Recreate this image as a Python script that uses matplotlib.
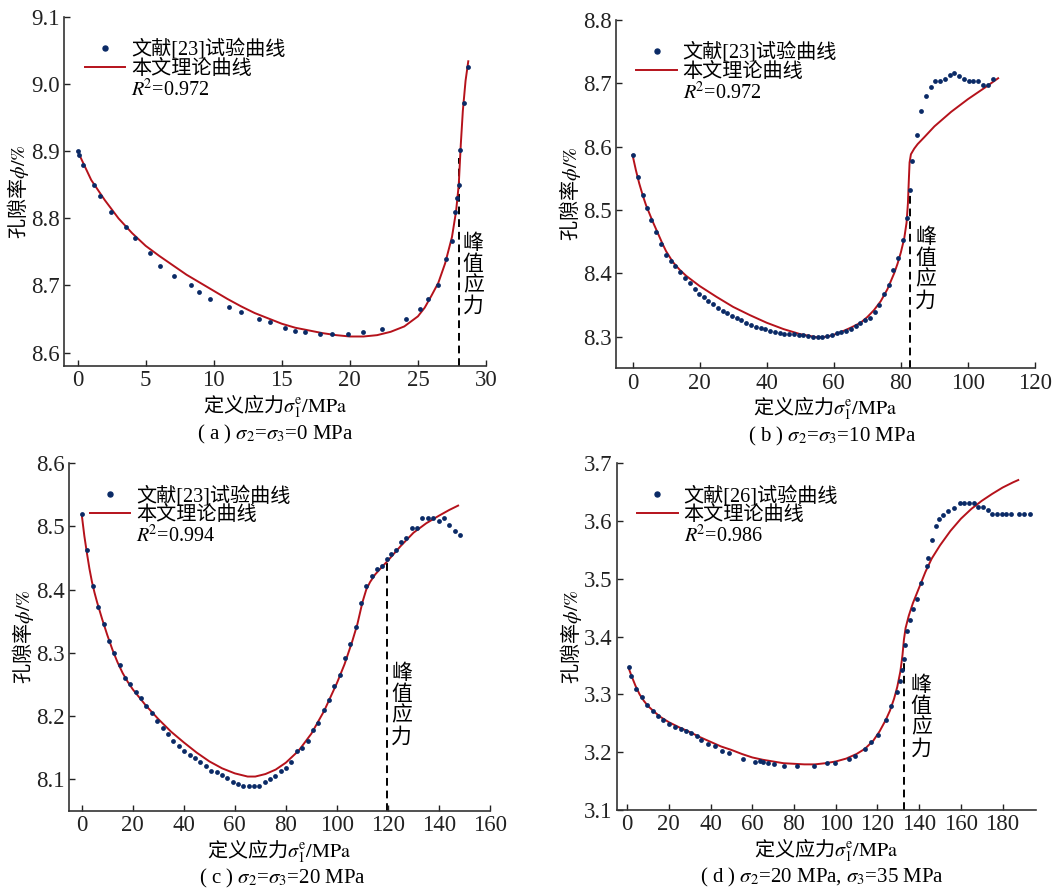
import matplotlib
matplotlib.use('Agg')
import matplotlib.pyplot as plt
from matplotlib.lines import Line2D
from matplotlib.font_manager import FontProperties

plt.rcParams['mathtext.fontset'] = 'stix'
plt.rcParams['font.family'] = ['Liberation Serif', 'Noto Sans CJK SC']

# ---- (a) sigma2 = sigma3 = 0 MPa ----
a_x = [0, 0.07, 0.42, 1.23, 1.67, 2.48, 3.56, 4.25, 5.28, 6.06, 7.05, 8.30, 8.94, 9.72,
       11.15, 11.98, 13.31, 14.14, 15.20, 15.98, 16.72, 17.80, 18.68, 19.84, 20.94, 22.37,
       24.13, 25.12, 25.75, 26.47, 27.08, 27.47, 27.74, 27.89, 28.01, 28.11, 28.36, 28.70]
a_y = [8.900, 8.895, 8.880, 8.850, 8.833, 8.809, 8.787, 8.770, 8.748, 8.729, 8.714, 8.700,
       8.690, 8.680, 8.668, 8.660, 8.650, 8.645, 8.637, 8.632, 8.630, 8.628, 8.627, 8.628,
       8.630, 8.635, 8.650, 8.665, 8.680, 8.700, 8.739, 8.766, 8.809, 8.830, 8.850, 8.902,
       8.972, 9.026]
a_cx = [0, 1, 2, 3, 4, 5, 6, 7, 8, 9, 10, 11, 12, 13, 14, 15, 16, 17, 18, 19, 20, 21, 22,
        23, 24, 25, 25.5, 26, 26.5, 27, 27.5, 27.8, 28.0, 28.15, 28.3, 28.5, 28.7]
a_cy = [8.900, 8.857, 8.827, 8.800, 8.778, 8.759, 8.744, 8.730, 8.716, 8.704, 8.692, 8.680,
        8.669, 8.659, 8.651, 8.643, 8.637, 8.633, 8.629, 8.626, 8.624, 8.624, 8.626, 8.631,
        8.639, 8.654, 8.667, 8.685, 8.704, 8.733, 8.772, 8.810, 8.850, 8.910, 8.960, 9.005,
        9.034]

# ---- (b) sigma2 = sigma3 = 10 MPa ----
b_x = [0, 1.49, 2.98, 4.17, 5.56, 7.05, 8.54, 10.03, 11.42, 12.62, 14.20, 15.59, 17.09,
       18.48, 19.87, 21.26, 22.65, 24.04, 25.43, 26.92, 28.31, 29.70, 31.09, 32.48, 33.87,
       35.36, 36.75, 38.24, 39.63, 41.03, 42.42, 43.91, 45.30, 46.69, 48.18, 49.57, 50.96,
       52.35, 53.74, 55.23, 56.62, 58.01, 59.40, 60.89, 62.28, 63.67, 65.06, 66.55, 67.95,
       69.33, 70.83, 72.22, 73.61, 75.0, 76.39, 77.78, 79.27, 80.56, 81.95, 82.75, 83.24,
       84.73, 85.93, 87.41, 88.90, 90.30, 91.78, 93.17, 94.56, 95.96, 97.45, 98.84, 100.23,
       101.62, 103.11, 104.50, 105.89, 107.38]
b_y = [8.587, 8.552, 8.523, 8.503, 8.484, 8.466, 8.447, 8.429, 8.420, 8.411, 8.402, 8.393,
       8.385, 8.376, 8.368, 8.363, 8.356, 8.351, 8.346, 8.341, 8.337, 8.332, 8.330, 8.326,
       8.322, 8.318, 8.315, 8.314, 8.312, 8.309, 8.308, 8.306, 8.305, 8.304, 8.304, 8.303,
       8.302, 8.301, 8.300, 8.300, 8.300, 8.301, 8.303, 8.306, 8.307, 8.309, 8.312, 8.317,
       8.321, 8.326, 8.329, 8.339, 8.350, 8.368, 8.382, 8.406, 8.424, 8.453, 8.488, 8.532,
       8.577, 8.619, 8.656, 8.680, 8.694, 8.703, 8.703, 8.707, 8.713, 8.717, 8.712, 8.707,
       8.703, 8.703, 8.703, 8.698, 8.698, 8.707]
b_cx = [0, 1, 2, 3, 4, 5, 6, 7, 8, 9, 10, 12, 14, 16, 18, 20, 25, 30, 35, 40, 45, 50, 55,
        58, 60, 62, 65, 68, 70, 72, 74, 76, 78, 79, 80, 81, 81.7, 82.1, 82.4, 82.6, 83, 84,
        85, 87, 90, 95, 100, 105, 109]
b_cy = [8.587, 8.563, 8.542, 8.524, 8.508, 8.495, 8.482, 8.470, 8.458, 8.446, 8.435, 8.418,
        8.406, 8.396, 8.388, 8.380, 8.363, 8.347, 8.334, 8.322, 8.312, 8.304, 8.299, 8.300,
        8.303, 8.307, 8.314, 8.322, 8.331, 8.342, 8.356, 8.375, 8.400, 8.415, 8.433, 8.455,
        8.480, 8.510, 8.550, 8.575, 8.588, 8.597, 8.604, 8.615, 8.632, 8.655, 8.675, 8.693,
        8.708]

# ---- (c) sigma2 = sigma3 = 20 MPa ----
c_x = [0.26, 2.22, 4.31, 6.53, 8.62, 10.71, 12.80, 14.89, 16.98, 19.07, 21.16, 23.25, 25.34,
       27.56, 29.65, 31.74, 33.83, 35.92, 38.14, 40.23, 42.32, 44.41, 46.50, 48.59, 50.68,
       52.90, 54.99, 57.08, 59.17, 61.26, 63.35, 65.44, 67.53, 69.62, 71.71, 73.80, 75.89,
       77.98, 80.07, 82.16, 84.38, 86.47, 88.56, 90.52, 92.74, 94.83, 96.92, 99.01, 101.10,
       103.19, 105.28, 107.37, 109.46, 111.55, 113.64, 115.73, 117.82, 119.65, 121.08,
       123.04, 125.13, 127.22, 129.31, 131.40, 133.49, 135.58, 137.80, 139.89, 141.98,
       144.07, 146.16, 148.38]
c_y = [8.520, 8.462, 8.405, 8.373, 8.346, 8.319, 8.300, 8.280, 8.260, 8.250, 8.238, 8.228,
       8.216, 8.204, 8.192, 8.181, 8.172, 8.161, 8.152, 8.145, 8.138, 8.133, 8.127, 8.121,
       8.113, 8.111, 8.106, 8.101, 8.096, 8.092, 8.089, 8.089, 8.089, 8.089, 8.096, 8.100,
       8.105, 8.112, 8.117, 8.127, 8.144, 8.149, 8.160, 8.177, 8.189, 8.210, 8.225, 8.247,
       8.265, 8.292, 8.314, 8.340, 8.378, 8.406, 8.421, 8.433, 8.437, 8.448, 8.457, 8.463,
       8.476, 8.481, 8.497, 8.497, 8.514, 8.514, 8.514, 8.509, 8.514, 8.503, 8.493, 8.487]
c_cx = [0, 1, 2, 3, 4, 5, 6, 8, 10, 12, 14, 16, 18, 20, 25, 30, 35, 40, 45, 50, 55, 60, 65,
        68, 72, 76, 80, 85, 90, 95, 100, 103, 106, 108, 110, 111.5, 113, 115, 117, 120, 125,
        130, 135, 140, 144, 147.5]
c_cy = [8.518, 8.485, 8.458, 8.433, 8.412, 8.395, 8.380, 8.353, 8.328, 8.305, 8.285, 8.268,
        8.254, 8.242, 8.217, 8.195, 8.175, 8.158, 8.142, 8.128, 8.117, 8.109, 8.104, 8.104,
        8.108, 8.115, 8.126, 8.145, 8.172, 8.208, 8.252, 8.282, 8.318, 8.345, 8.380, 8.400,
        8.412, 8.424, 8.433, 8.446, 8.469, 8.490, 8.505, 8.517, 8.526, 8.533]

# ---- (d) sigma2 = 20 MPa, sigma3 = 35 MPa ----
d_x = [0.80, 2.07, 4.30, 7.01, 9.56, 12.27, 14.81, 17.36, 19.91, 22.78, 25.64, 28.19, 30.42,
       33.29, 35.52, 38.71, 41.89, 45.40, 48.90, 55.59, 61.33, 63.87, 64.99, 67.70, 70.56,
       75.02, 81.24, 89.68, 95.73, 99.55, 106.24, 109.43, 114.21, 116.76, 120.26, 124.08,
       126.63, 129.50, 130.93, 131.73, 132.69, 133.32, 134.12, 135.39, 136.83, 138.90,
       140.65, 143.67, 144.47, 146.22, 148.14, 149.41, 151.64, 153.71, 156.90, 159.44,
       161.67, 163.91, 166.14, 168.37, 170.76, 172.83, 175.06, 177.29, 179.52, 181.75,
       183.98, 187.80, 190.04, 192.90]
d_y = [3.348, 3.332, 3.309, 3.296, 3.282, 3.271, 3.263, 3.256, 3.249, 3.244, 3.240, 3.237,
       3.234, 3.228, 3.222, 3.215, 3.210, 3.203, 3.198, 3.189, 3.183, 3.184, 3.183, 3.181,
       3.180, 3.176, 3.176, 3.176, 3.182, 3.182, 3.188, 3.193, 3.205, 3.218, 3.230, 3.255,
       3.280, 3.305, 3.324, 3.342, 3.361, 3.386, 3.410, 3.429, 3.448, 3.466, 3.492, 3.523,
       3.536, 3.567, 3.592, 3.604, 3.611, 3.617, 3.623, 3.631, 3.631, 3.631, 3.631, 3.625,
       3.625, 3.619, 3.612, 3.612, 3.612, 3.612, 3.612, 3.612, 3.612, 3.612]
d_cx = [0.8, 2, 4, 6, 8, 10, 13, 16, 20, 25, 30, 35, 40, 45, 50, 55, 60, 65, 70, 75, 80, 85,
        90, 95, 100, 105, 110, 114, 118, 121, 124, 126, 128, 129.5, 131, 132, 132.7, 133.5,
        135, 137, 140, 143, 146, 150, 155, 160, 165, 170, 175, 180, 185, 187.5]
d_cy = [3.345, 3.333, 3.315, 3.300, 3.289, 3.280, 3.270, 3.261, 3.252, 3.243, 3.235, 3.226,
        3.218, 3.210, 3.204, 3.197, 3.191, 3.187, 3.184, 3.181, 3.180, 3.179, 3.179, 3.181,
        3.184, 3.189, 3.197, 3.206, 3.220, 3.236, 3.256, 3.272, 3.293, 3.313, 3.340, 3.368,
        3.395, 3.415, 3.436, 3.458, 3.485, 3.512, 3.535, 3.558, 3.583, 3.604, 3.621, 3.635,
        3.647, 3.658, 3.667, 3.671]

refs = ['文献[23]试验曲线', '文献[23]试验曲线', '文献[23]试验曲线', '文献[26]试验曲线']
r2 = ['0.972', '0.972', '0.994', '0.986']
captions = ['( a ) $\\sigma_2$=$\\sigma_3$=0 MPa',
            '( b ) $\\sigma_2$=$\\sigma_3$=10 MPa',
            '( c ) $\\sigma_2$=$\\sigma_3$=20 MPa',
            '( d ) $\\sigma_2$=20 MPa, $\\sigma_3$=35 MPa']
peaks = [28.0, 82.6, 119.6, 132.7]
peak_top = [8.89, 8.53, 8.445, 3.36]
peak_txt = [(28.3, 8.78), (84.3, 8.475), (121.3, 8.285), (136.0, 3.335)]
xlims = [(-1, 30), (-5, 120), (-5, 160), (-5, 196)]
ylims = [(8.58, 9.1), (8.25, 8.8), (8.05, 8.6), (3.1, 3.7)]
xticks = [range(0, 31, 5), range(0, 121, 20), range(0, 161, 20), range(0, 181, 20)]
yticks = [[8.6, 8.7, 8.8, 8.9, 9.0, 9.1], [8.3, 8.4, 8.5, 8.6, 8.7, 8.8],
          [8.1, 8.2, 8.3, 8.4, 8.5, 8.6], [3.1, 3.2, 3.3, 3.4, 3.5, 3.6, 3.7]]
positions = [[0.0603, 0.5878, 0.3973, 0.3931], [0.5798, 0.5852, 0.3948, 0.3923],
             [0.0650, 0.0871, 0.3964, 0.3912], [0.5807, 0.0878, 0.3948, 0.3905]]
cap_x = [0.50, 0.516, 0.507, 0.489]

data = [(a_x, a_y, a_cx, a_cy), (b_x, b_y, b_cx, b_cy),
        (c_x, c_y, c_cx, c_cy), (d_x, d_y, d_cx, d_cy)]

dot_c = '#0a2a66'
line_c = '#b5121b'
cjk = FontProperties(family=['Noto Sans CJK SC'], size=14.5)
peakfont = FontProperties(family=['Noto Sans CJK SC'], size=15)
mix = FontProperties(family=['Liberation Serif', 'Noto Sans CJK SC'], size=14.5)

fig = plt.figure(figsize=(10.62, 8.88), dpi=100)
for i in range(4):
    ax = fig.add_axes(positions[i])
    px, py, cx, cy = data[i]
    ax.plot(cx, cy, color=line_c, lw=1.4, zorder=2)
    ax.scatter(px, py, s=12, color=dot_c, zorder=3, linewidths=0)
    ax.plot([peaks[i], peaks[i]], [ylims[i][0], peak_top[i]], color='black', lw=1.4,
            ls=(0, (4, 2.5)), zorder=1)
    ax.text(peak_txt[i][0], peak_txt[i][1], '峰\n值\n应\n力', fontproperties=peakfont,
            va='top', ha='left', linespacing=0.95)
    ax.set_xlim(xlims[i])
    ax.set_ylim(ylims[i])
    ax.set_xticks(list(xticks[i]))
    ax.set_yticks(yticks[i])
    ax.set_yticklabels(['%.1f' % v for v in yticks[i]])
    for s in ['top', 'right']:
        ax.spines[s].set_visible(False)
    for s in ['left', 'bottom']:
        ax.spines[s].set_color('#333333')
        ax.spines[s].set_linewidth(1.2)
    ax.tick_params(direction='in', length=4, width=1, labelsize=16.5, colors='#222222',
                   pad=3)
    for lab in ax.get_xticklabels() + ax.get_yticklabels():
        lab.set_fontfamily('Liberation Serif')
    ax.set_xlabel('定义应力$\\sigma_1^{\\rm e}\\mathrm{/MPa}$', fontproperties=cjk,
                  labelpad=1)
    ax.set_ylabel('孔隙率$\\phi\\mathrm{/\\%}$', fontproperties=cjk, labelpad=0)
    ax.text(cap_x[i], -0.195, captions[i], transform=ax.transAxes, ha='center',
            va='center', fontsize=15, family='Liberation Serif')
    h1 = Line2D([], [], ls='none', marker='o', ms=3.6, color=dot_c)
    h2 = Line2D([], [], color=line_c, lw=1.4)
    h3 = Line2D([], [], ls='none')
    ax.legend([h1, h2, h3], [refs[i], '本文理论曲线', '$R^{\\!2}$=' + r2[i]], prop=mix,
              frameon=False, loc='upper left', bbox_to_anchor=(0.03, 0.96),
              handlelength=2.0, handletextpad=0.3, labelspacing=0.0,
              borderaxespad=0.0)

fig.savefig('out.png', dpi=100)
